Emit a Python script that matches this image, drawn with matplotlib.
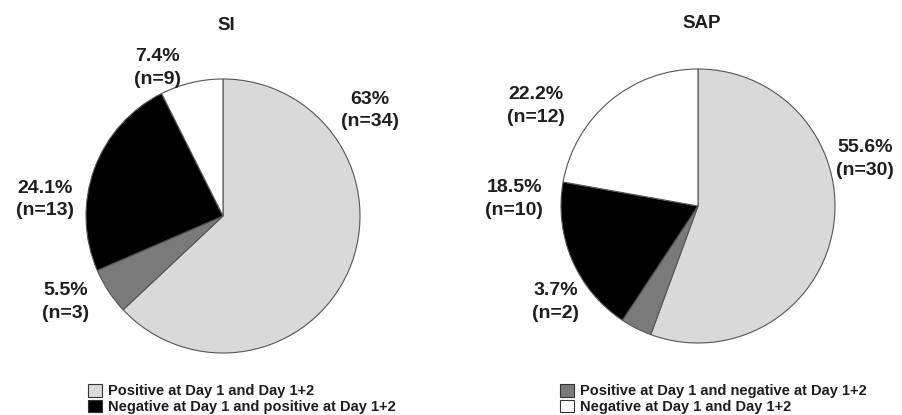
import matplotlib.pyplot as plt
from matplotlib.patches import Patch

plt.rcParams['font.family'] = ['Liberation Sans', 'DejaVu Sans']
plt.rcParams['font.weight'] = 'bold'

categories = ['Positive at Day 1 and Day 1+2',
              'Positive at Day 1 and negative at Day 1+2',
              'Negative at Day 1 and positive at Day 1+2',
              'Negative at Day 1 and Day 1+2']
colors = ['#d9d9d9', '#7a7a7a', '#000000', '#ffffff']

si_pct = [63, 5.5, 24.1, 7.4]
si_labels = ['63%\n(n=34)', '5.5%\n(n=3)', '24.1%\n(n=13)', '7.4%\n(n=9)']
sap_pct = [55.6, 3.7, 18.5, 22.2]
sap_labels = ['55.6%\n(n=30)', '3.7%\n(n=2)', '18.5%\n(n=10)', '22.2%\n(n=12)']

# label anchor positions, in units of pie radius
si_pos = [(1.07, 0.77), (-1.15, -0.63), (-1.30, 0.12), (-0.48, 1.08)]
sap_pos = [(1.22, 0.34), (-1.04, -0.70), (-1.34, 0.05), (-1.18, 0.73)]

W, H = 903, 415
fig = plt.figure(figsize=(W / 100, H / 100), dpi=100)
r = 137


def draw(cx, cy, pct, labels, pos, title, tx, ty):
    ax = fig.add_axes([(cx - r) / W, (H - cy - r) / H, 2 * r / W, 2 * r / H])
    ax.pie(pct, colors=colors, startangle=90, counterclock=False,
           wedgeprops=dict(edgecolor='#555555', linewidth=0.8))
    ax.set_xlim(-1, 1)
    ax.set_ylim(-1, 1)
    ax.set_aspect('auto')
    for lab, (x, y) in zip(labels, pos):
        ax.text(x, y, lab, ha='center', va='center', fontsize=14,
                fontweight='bold', color='#1e1e1e', linespacing=1.45,
                clip_on=False)
    fig.text(tx / W, 1 - ty / H, title, ha='center', va='center',
             fontsize=13.5, fontweight='bold', color='#1e1e1e')


draw(223, 216, si_pct, si_labels, si_pos, 'SI', 226, 25)
draw(698, 206, sap_pct, sap_labels, sap_pos, 'SAP', 702, 23)

handles = [Patch(facecolor=c, edgecolor='#333333', linewidth=0.8) for c in colors]
leg_kw = dict(frameon=False, fontsize=10.5, handlelength=0.95, handleheight=0.95,
              handletextpad=0.4, labelspacing=0.1, borderpad=0, borderaxespad=0,
              labelcolor='#1e1e1e')
fig.legend([handles[0], handles[2]], [categories[0], categories[2]],
           loc='upper left', bbox_to_anchor=(88 / W, 1 - 384 / H), **leg_kw)
fig.legend([handles[1], handles[3]], [categories[1], categories[3]],
           loc='upper left', bbox_to_anchor=(560 / W, 1 - 384 / H), **leg_kw)

fig.savefig('out.png', dpi=100)
